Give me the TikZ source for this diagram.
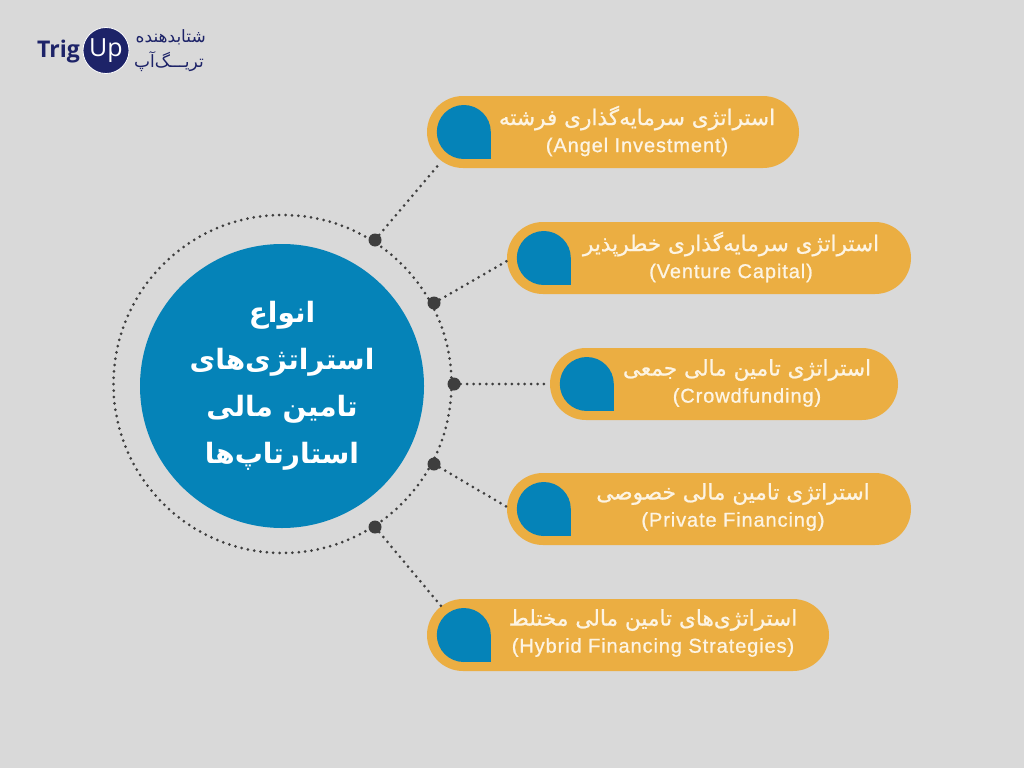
\documentclass[tikz,border=0pt]{standalone}
\usepackage{fontspec}
\setmainfont{Liberation Sans}
\newfontfamily\arabicfont[Script=Arabic]{DejaVu Sans}
\newfontfamily\pillarabic[Script=Arabic, FakeBold=0.9]{DejaVu Sans}
\newfontfamily\latinspaced[LetterSpace=4.5, FakeBold=0.9]{Liberation Sans}
\newfontfamily\logofont{Open Sans}
\TeXXeTstate=1
\usetikzlibrary{positioning, calc}
\definecolor{pagegray}{HTML}{D9D9D9}
\definecolor{pillgold}{HTML}{EBAE42}
\definecolor{dropblue}{HTML}{0583B8}
\definecolor{dotgray}{HTML}{3E3E3E}
\definecolor{creamtext}{HTML}{FDF4E3}
\definecolor{logonavy}{HTML}{1D2368}
\newcommand{\fa}[1]{{\arabicfont\beginR #1\endR}}
\newcommand{\pillfa}[1]{{\pillarabic\fontsize{21.6}{27}\selectfont\beginR #1\endR}}
\newcommand{\pillen}[1]{{\latinspaced\fontsize{20}{27}\selectfont #1}}
\newcommand{\dropmark}[1]{
  \fill[dropblue] (#1.west) ++(37,0) circle (27pt);
  \fill[dropblue] (#1.west) ++(37,0) rectangle ++(27,27);
}
\tikzset{
  pill/.style={
    rectangle,
    rounded corners=36pt,
    fill=pillgold,
    minimum height=72pt,
    inner sep=0pt
  },
  pilltext/.style={
    text=creamtext,
    align=center,
    inner sep=0pt,
    font=\fontsize{19}{27}\selectfont
  },
  link/.style={
    draw=dotgray,
    line width=3pt,
    line cap=round,
    dash pattern=on 0pt off 6.4pt
  },
  joint/.style={
    circle,
    fill=dotgray,
    minimum size=13pt,
    inner sep=0pt
  }
}
\begin{document}
\begin{tikzpicture}[x=1pt, y=-1pt]
\useasboundingbox[fill=pagegray] (0,0) rectangle (1024,768);

% ring and hub
\node[circle, fill=dropblue, minimum size=284pt, inner sep=0pt] (hub) at (282,386) {};
\draw[link] (282.5,384) circle (169pt);
\node[text=white, align=center, inner sep=0pt, font=\fontsize{28}{47}\selectfont\bfseries] (hubtext) at (282,386)
{\fa{انواع}\\ \fa{استراتژی‌های}\\ \fa{تامین مالی}\\ \fa{استارتاپ‌ها}};

% joints
\node[joint] (j1) at (375,240) {};
\node[joint] (j2) at (434,303) {};
\node[joint] (j3) at (454,384) {};
\node[joint] (j4) at (434,464) {};
\node[joint] (j5) at (375,527) {};

% pills
\node[pill, minimum width=372pt] (angel) at (613,132) {};
\node[pill, minimum width=404pt] (venture) at (709,258) {};
\node[pill, minimum width=348pt] (crowd) at (724,384) {};
\node[pill, minimum width=404pt] (private) at (709,509) {};
\node[pill, minimum width=402pt] (hybrid) at (628,635) {};

\dropmark{angel}
\dropmark{venture}
\dropmark{crowd}
\dropmark{private}
\dropmark{hybrid}

% labels
\node[pilltext] (angeltext) at (637,131)
{\pillfa{استراتژی سرمایه‌گذاری فرشته}\\ \pillen{(Angel Investment)}};
\node[pilltext] (venturetext) at (731,257)
{\pillfa{استراتژی سرمایه‌گذاری خطرپذیر}\\ \pillen{(Venture Capital)}};
\node[pilltext] (crowdtext) at (747,383)
{\pillfa{استراتژی تامین مالی جمعی}\\ \pillen{(Crowdfunding)}};
\node[pilltext] (privatetext) at (733,507)
{\pillfa{استراتژی تامین مالی خصوصی}\\ \pillen{(Private Financing)}};
\node[pilltext] (hybridtext) at (653,633)
{\pillfa{استراتژی‌های تامین مالی مختلط}\\ \pillen{(Hybrid Financing Strategies)}};

% edges
\coordinate (e1) at (441,162);
\coordinate (e2) at (507,261);
\coordinate (e4) at (507,507);
\coordinate (e5) at (441,606);
\draw[link] (j1) -- (e1);
\draw[link] (j2) -- (e2);
\draw[link] (j3) -- (crowd.west);
\draw[link] (j4) -- (e4);
\draw[link] (j5) -- (e5);

% logo
\node[circle, fill=logonavy, draw=white, line width=0.8pt, minimum size=46pt, inner sep=0pt, text=white, font=\logofont\fontsize{25}{25}\selectfont] (logoup) at (106,50.5) {Up};
\node[anchor=base east, inner sep=0pt, text=logonavy, font=\logofont\fontsize{23}{23}\selectfont\bfseries] (logotrig) at (80,58) {Trig};
\node[anchor=east, inner sep=0pt, text=logonavy, font=\fontsize{17}{17}\selectfont] (logofa1) at (206,37) {\fa{شتابدهنده}};
\node[anchor=east, inner sep=0pt, text=logonavy, font=\fontsize{17}{17}\selectfont] (logofa2) at (204,62) {\fa{تریـــگ‌آپ}};
\end{tikzpicture}
\end{document}
